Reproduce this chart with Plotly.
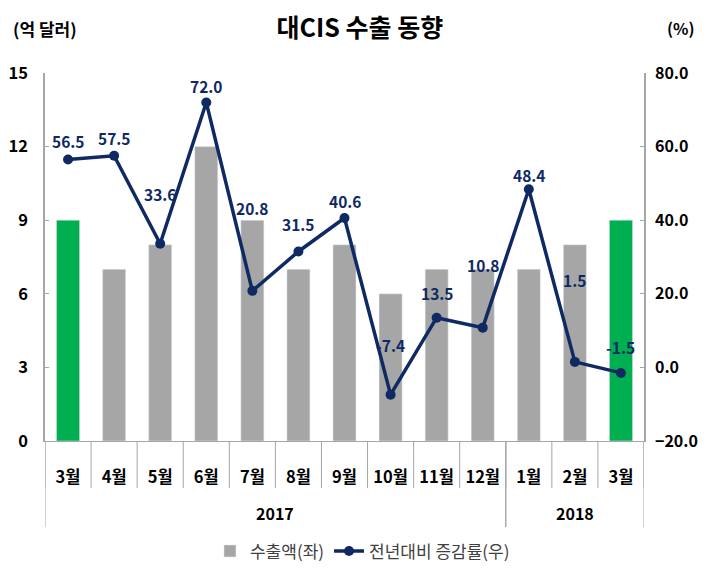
import plotly.graph_objects as go

# Data
months = ["3월", "4월", "5월", "6월", "7월", "8월", "9월", "10월", "11월", "12월", "1월", "2월", "3월"]
exports = [9, 7, 8, 12, 9, 7, 8, 6, 7, 7, 7, 8, 9]          # 억 달러
growth = [56.5, 57.5, 33.6, 72.0, 20.8, 31.5, 40.6, -7.4, 13.5, 10.8, 48.4, 1.5, -1.5]  # %
highlight = [0, 12]                                          # green bars
years = ["2017", "2018"]
year_spans = [(0, 9), (10, 12)]

# label lift above each point (px), as placed in the original
label_shift = [18, 18, 50, 16, 83, 27, 17, 50, 25, 63, 14, 82, 26]

GREY = "#A6A6A6"
GREEN = "#00B050"
NAVY = "#0F2A63"
FONT = "Noto Sans CJK KR"

x = list(range(len(months)))

fig = go.Figure()

fig.add_trace(go.Bar(x=x, y=exports, name="수출액(좌)", marker_color=GREY, width=0.5))
fig.add_trace(go.Bar(x=highlight, y=[exports[i] for i in highlight], marker_color=GREEN,
                     width=0.5, showlegend=False))
fig.add_trace(go.Scatter(x=x, y=growth, name="전년대비 증감률(우)", yaxis="y2",
                         mode="lines+markers",
                         line=dict(color=NAVY, width=3.5),
                         marker=dict(color=NAVY, size=10)))

# Data labels
for i, v in enumerate(growth):
    fig.add_annotation(x=i, y=v, yref="y2", text=f"{v:.1f}", showarrow=False,
                       yshift=label_shift[i], yanchor="middle",
                       font=dict(family=FONT, size=15.5, color=NAVY, weight="bold"))

# Category dividers
for i in range(len(months) + 1):
    fig.add_shape(type="line", xref="x", yref="paper", x0=i - 0.5, x1=i - 0.5,
                  y0=0, y1=-0.128, line=dict(color=GREY, width=1))
for a, b in year_spans:
    for xb in (a - 0.5, b + 0.5):
        fig.add_shape(type="line", xref="x", yref="paper", x0=xb, x1=xb,
                      y0=0, y1=-0.234, line=dict(color=GREY, width=1))

# Year labels
for yr, (a, b) in zip(years, year_spans):
    fig.add_annotation(x=(a + b) / 2, xref="x", y=-0.196, yref="paper", text=yr,
                       showarrow=False, yanchor="middle",
                       font=dict(family=FONT, size=16, color="black", weight="bold"))

# Axis unit labels
fig.add_annotation(x=0, xref="paper", y=1.122, yref="paper", text="(억 달러)", showarrow=False,
                   xanchor="center", yanchor="middle",
                   font=dict(family=FONT, size=17, color="black", weight="bold"))
fig.add_annotation(x=1.062, xref="paper", y=1.122, yref="paper", text="(%)", showarrow=False,
                   xanchor="center", yanchor="middle",
                   font=dict(family=FONT, size=16, color="black", weight="bold"))

# page body has an 8px margin, so the figure is a bit smaller than the window
fig.update_layout(
    width=701, height=560,
    margin=dict(l=37, r=65, t=65, b=127, autoexpand=False),
    paper_bgcolor="white", plot_bgcolor="white",
    barmode="overlay",
    font=dict(family=FONT, color="black"),
    title=dict(text="<b>대CIS 수출 동향</b>", x=0.502, xanchor="center", y=0.964, yanchor="middle",
               font=dict(family=FONT, size=25, color="black")),
    xaxis=dict(range=[-0.5, 12.5], tickvals=x, ticktext=months, showgrid=False, zeroline=False,
               showline=True, linecolor=GREY, linewidth=1, ticks="", ticklabelstandoff=21,
               automargin=False,
               tickfont=dict(family=FONT, size=16.5, color="black", weight="bold")),
    yaxis=dict(range=[0, 15], dtick=3, showgrid=False, zeroline=False, showline=True,
               linecolor=GREY, linewidth=1.5, ticks="inside", ticklen=4, tickcolor=GREY,
               ticklabelstandoff=12, automargin=False,
               tickfont=dict(family=FONT, size=16.5, color="black", weight="bold")),
    yaxis2=dict(range=[-20, 80], dtick=20, tickformat=".1f", overlaying="y", side="right",
                showgrid=False, zeroline=False, showline=True, linecolor=GREY, linewidth=1.5,
                ticks="inside", ticklen=4, tickcolor=GREY, ticklabelstandoff=6,
                automargin=False,
                tickfont=dict(family=FONT, size=16, color="black", weight="bold")),
    legend=dict(orientation="h", x=0.53, xanchor="center", y=-0.30, yanchor="middle",
                font=dict(family=FONT, size=17, color="#404040"), traceorder="normal"),
)

fig.write_html("out.html")
